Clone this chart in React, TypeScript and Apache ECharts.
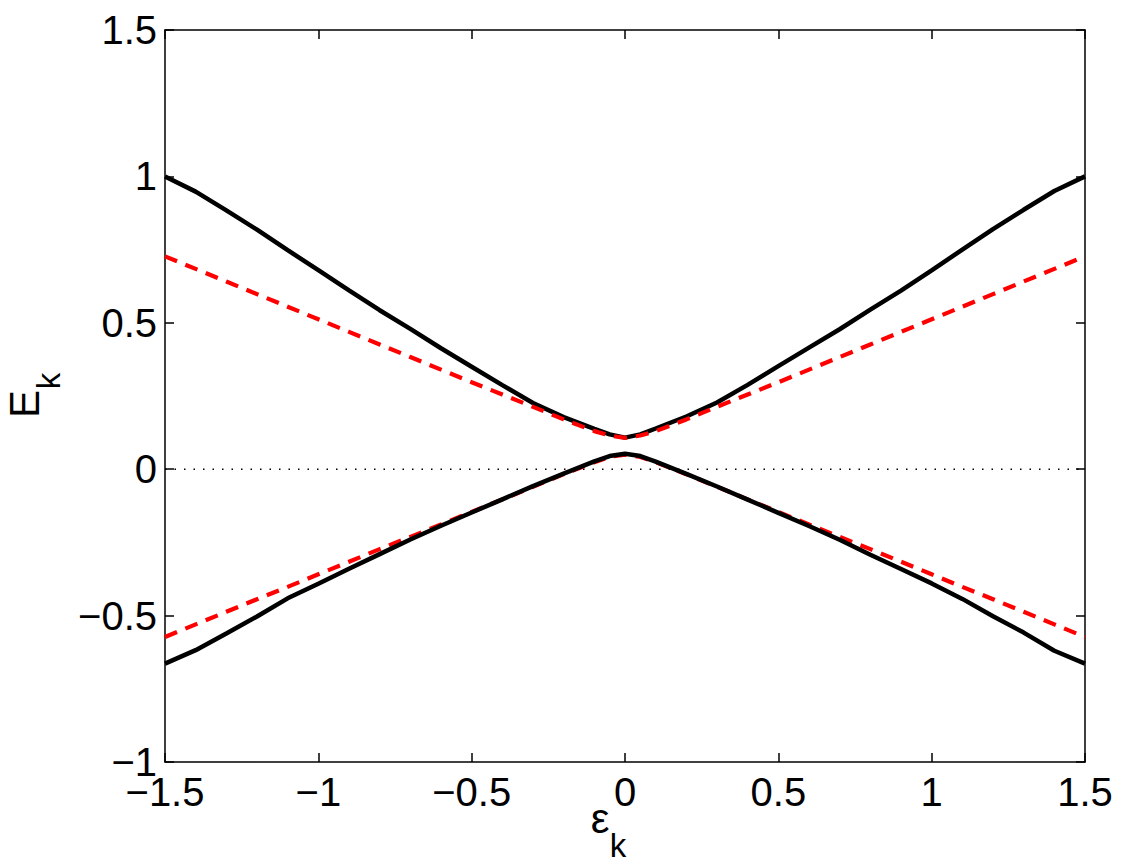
import { useEffect, useRef } from "react";
import * as echarts from "echarts";

const EPS = [
  -1.5, -1.4, -1.3, -1.2, -1.1, -1.0, -0.9, -0.8, -0.7, -0.6, -0.5, -0.4, -0.3, -0.2, -0.1, -0.05,
  0,
  0.05, 0.1, 0.2, 0.3, 0.4, 0.5, 0.6, 0.7, 0.8, 0.9, 1.0, 1.1, 1.2, 1.3, 1.4, 1.5,
];

const UPPER_BAND = [
  1.0, 0.948, 0.884, 0.818, 0.748, 0.68, 0.611, 0.543, 0.479, 0.413, 0.35, 0.287, 0.226, 0.178, 0.138, 0.119,
  0.108,
  0.119, 0.139, 0.18, 0.228, 0.288, 0.352, 0.415, 0.478, 0.545, 0.61, 0.679, 0.75, 0.82, 0.886, 0.95, 1.0,
];

const LOWER_BAND = [
  -0.664, -0.618, -0.561, -0.503, -0.441, -0.391, -0.34, -0.29, -0.24, -0.193, -0.148, -0.103, -0.058, -0.015, 0.027, 0.045,
  0.053,
  0.045, 0.026, -0.016, -0.059, -0.104, -0.149, -0.194, -0.241, -0.292, -0.341, -0.39, -0.443, -0.502, -0.558, -0.62, -0.664,
];

const UPPER_FIT = [
  0.727, 0.684, 0.641, 0.598, 0.555, 0.512, 0.469, 0.426, 0.383, 0.34, 0.297, 0.255, 0.213, 0.17, 0.13, 0.115,
  0.107,
  0.115, 0.13, 0.17, 0.213, 0.255, 0.297, 0.34, 0.383, 0.426, 0.469, 0.512, 0.555, 0.598, 0.641, 0.684, 0.727,
];

const LOWER_FIT = [
  -0.573, -0.53, -0.487, -0.444, -0.402, -0.359, -0.316, -0.273, -0.231, -0.189, -0.146, -0.103, -0.06, -0.017, 0.024, 0.042,
  0.05,
  0.042, 0.024, -0.017, -0.06, -0.103, -0.146, -0.189, -0.231, -0.273, -0.316, -0.359, -0.402, -0.444, -0.487, -0.53, -0.573,
];

const ZERO_X = [-1.5, 1.5];
const ZERO_Y = [0, 0];

const FONT = "'Liberation Sans', Arial, Helvetica, sans-serif";

function pairs(xs: number[], ys: number[]): number[][] {
  return xs.map((x, i) => [x, ys[i]]);
}

function tickLabel(value: number): string {
  return String(value).replace("-", "\u2212");
}

export default function App() {
  const containerRef = useRef<HTMLDivElement | null>(null);

  useEffect(() => {
    if (!containerRef.current) {
      return;
    }

    const chart = echarts.init(containerRef.current, null, { renderer: "svg" });

    const axisLine = { show: true, onZero: false, lineStyle: { color: "#000", width: 1.5 } };
    const axisTick = { show: true, inside: true, length: 9, lineStyle: { color: "#000", width: 1.5 } };

    const solid = { color: "#000", width: 4.5 };
    const dashed = { color: "#ff0000", width: 4.2, type: [13, 9] as number[] };

    const option: echarts.EChartsOption = {
      animation: false,
      backgroundColor: "#fff",
      grid: {
        left: 165,
        right: 38,
        top: 30,
        bottom: 103,
      },
      xAxis: [
        {
          type: "value",
          min: -1.5,
          max: 1.5,
          interval: 0.5,
          position: "bottom",
          axisLine,
          axisTick,
          splitLine: { show: false },
          axisLabel: {
            color: "#000",
            fontSize: 40,
            fontFamily: FONT,
            margin: 10,
            showMinLabel: true,
            showMaxLabel: true,
            formatter: tickLabel,
          },
        },
        {
          type: "value",
          min: -1.5,
          max: 1.5,
          interval: 0.5,
          position: "top",
          axisLine,
          axisTick,
          splitLine: { show: false },
          axisLabel: { show: false },
        },
      ],
      yAxis: [
        {
          type: "value",
          min: -1,
          max: 1.5,
          interval: 0.5,
          position: "left",
          axisLine,
          axisTick,
          splitLine: { show: false },
          axisLabel: {
            color: "#000",
            fontSize: 40,
            fontFamily: FONT,
            margin: 8,
            showMinLabel: true,
            showMaxLabel: true,
            formatter: tickLabel,
          },
        },
        {
          type: "value",
          min: -1,
          max: 1.5,
          interval: 0.5,
          position: "right",
          axisLine,
          axisTick,
          splitLine: { show: false },
          axisLabel: { show: false },
        },
      ],
      series: [
        {
          type: "line",
          data: pairs(ZERO_X, ZERO_Y),
          symbol: "none",
          silent: true,
          lineStyle: { color: "#000", width: 1.5, type: [1.5, 8] },
        },
        {
          type: "line",
          data: pairs(EPS, LOWER_FIT),
          symbol: "none",
          silent: true,
          lineStyle: dashed,
        },
        {
          type: "line",
          data: pairs(EPS, UPPER_BAND),
          symbol: "none",
          silent: true,
          lineStyle: solid,
        },
        {
          type: "line",
          data: pairs(EPS, LOWER_BAND),
          symbol: "none",
          silent: true,
          lineStyle: solid,
        },
        {
          type: "line",
          data: pairs(EPS, UPPER_FIT),
          symbol: "none",
          silent: true,
          lineStyle: dashed,
        },
      ],
      graphic: [
        {
          type: "text",
          x: 24,
          y: 404,
          rotation: Math.PI / 2,
          style: { text: "E", font: `42px ${FONT}`, fill: "#000", textAlign: "center", textVerticalAlign: "middle" },
        },
        {
          type: "text",
          x: 48,
          y: 381,
          rotation: Math.PI / 2,
          style: { text: "k", font: `33px ${FONT}`, fill: "#000", textAlign: "center", textVerticalAlign: "middle" },
        },
        {
          type: "text",
          x: 600,
          y: 818,
          style: { text: "\u03b5", font: `42px ${FONT}`, fill: "#000", textAlign: "center", textVerticalAlign: "middle" },
        },
        {
          type: "text",
          x: 618,
          y: 845,
          style: { text: "k", font: `33px ${FONT}`, fill: "#000", textAlign: "center", textVerticalAlign: "middle" },
        },
      ],
    };

    chart.setOption(option);

    return () => {
      chart.dispose();
    };
  }, []);

  return (
    <div
      ref={containerRef}
      style={{ position: "absolute", left: 0, top: 0, width: 1123, height: 865, background: "#fff" }}
    />
  );
}
